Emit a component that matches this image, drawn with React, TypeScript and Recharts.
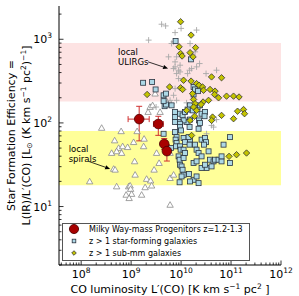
import React from 'react';
import {
  ScatterChart,
  Scatter,
  XAxis,
  YAxis,
  ReferenceArea,
  ReferenceLine,
  ErrorBar,
  Legend
} from 'recharts';

const FONT = '"DejaVu Sans", sans-serif';

// values as [log10 L'(CO), log10 SFE]
const starFormingLog: [number, number][] = [
  [9.89, 2.98], [10.2, 2.76], [9.24, 2.48], [9.42, 2.49], [9.49, 2.4], [9.65, 2.33], [9.7, 2.35], [10.25, 2.34],
  [10.25, 2.43], [10.28, 2.4], [10.34, 2.38], [9.67, 2.2], [9.7, 2.22], [9.65, 2.26], [9.81, 2.21], [9.88, 2.13],
  [9.88, 2.07], [9.98, 2.11], [10.03, 2.09], [10.08, 2.13], [10.23, 2.15], [10.33, 2.19], [10.38, 2.21], [10.18, 2.21],
  [10.13, 2.16], [10.41, 2.11], [10.48, 2.13], [10.47, 2.08], [10.36, 2.03], [10.18, 2.04], [10.11, 2.01], [10.05, 2.03],
  [9.95, 2.01], [9.88, 2.01], [9.98, 1.99], [9.98, 1.95], [10.0, 1.91], [10.17, 1.95], [10.35, 1.93], [10.38, 2.0],
  [9.65, 1.87], [9.88, 1.89], [9.91, 1.83], [9.89, 1.8], [9.91, 1.76], [9.9, 1.72], [10.05, 1.82], [10.08, 1.77],
  [10.18, 1.8], [10.17, 1.74], [10.15, 1.83], [10.28, 1.74], [10.41, 1.8], [10.48, 1.82], [10.5, 1.77], [10.46, 1.74],
  [10.98, 1.83], [10.85, 1.74], [9.8, 1.7], [9.98, 1.72], [9.99, 1.68], [10.05, 1.68], [10.08, 1.64], [10.31, 1.68],
  [10.35, 1.64], [10.41, 1.6], [10.55, 1.66], [10.58, 1.56], [10.65, 1.54], [10.68, 1.56], [10.75, 1.56], [10.81, 1.54],
  [10.81, 1.6], [10.51, 1.46], [10.61, 1.48], [10.41, 1.46], [10.48, 1.5], [10.25, 1.52], [10.31, 1.54], [9.95, 1.6],
  [9.97, 1.56], [9.98, 1.5], [10.05, 1.58], [10.01, 1.48], [10.03, 1.44], [10.05, 1.38], [9.97, 1.29], [10.16, 1.39],
  [10.25, 1.32], [10.35, 1.28], [10.98, 1.52], [10.31, 1.36], [10.01, 1.36], [10.18, 1.3]
];

const subMmLog: [number, number][] = [
  [9.99, 3.21], [10.2, 3.05], [9.96, 2.91], [10.29, 2.9], [9.99, 2.83], [10.02, 2.8], [10.18, 2.84], [10.24, 2.79],
  [10.61, 2.55], [10.81, 2.54], [10.05, 2.51], [10.2, 2.5], [10.31, 2.47], [10.36, 2.45], [10.43, 2.43], [9.77, 2.43],
  [9.99, 2.42], [10.03, 2.4], [10.45, 2.39], [10.58, 2.4], [10.68, 2.38], [10.67, 2.34], [10.91, 2.32], [11.05, 2.32],
  [11.16, 2.31], [10.75, 2.3], [10.25, 2.28], [10.55, 2.27], [10.44, 2.25], [10.28, 2.23], [10.25, 2.19], [10.31, 2.15],
  [10.11, 2.15], [11.13, 2.14], [11.25, 2.16], [11.27, 2.11], [10.81, 2.09], [11.05, 2.05], [10.63, 2.07], [10.61, 2.03],
  [10.18, 2.03], [10.27, 2.08], [10.21, 1.85], [10.4, 2.22], [10.23, 2.35], [11.11, 1.62], [11.31, 1.64], [10.96, 1.6],
  [9.32, 2.34]
];

const ulirgLog: [number, number][] = [
  [9.35, 2.99], [9.61, 3.18], [9.69, 3.16], [9.88, 3.08], [10.0, 3.13], [10.31, 3.11], [9.85, 2.97], [9.81, 2.95],
  [10.18, 2.95], [10.28, 2.85], [9.75, 2.79], [9.91, 2.79], [9.88, 2.73], [9.98, 2.69], [9.88, 2.67], [9.85, 2.65],
  [9.95, 2.63], [9.91, 2.59], [9.98, 2.61], [10.17, 2.63], [10.21, 2.65], [10.13, 2.59], [10.37, 2.71], [10.31, 2.67],
  [10.5, 2.59], [10.71, 2.63], [9.95, 2.53], [9.88, 2.41], [9.85, 2.33], [9.78, 2.27], [9.91, 2.27], [9.81, 2.23],
  [9.68, 2.27], [10.11, 2.24], [10.63, 2.03], [10.71, 2.04], [10.61, 1.97], [10.65, 1.95], [10.51, 1.87], [9.5, 2.19]
];

const spiralLog: [number, number][] = [
  [8.17, 1.3], [8.41, 1.94], [8.8, 1.9], [9.12, 1.9], [8.67, 1.79], [9.05, 1.77], [9.26, 1.81], [8.75, 1.7],
  [8.83, 1.72], [8.93, 1.71], [9.25, 1.72], [9.34, 2.13], [9.38, 2.19], [9.43, 2.21], [9.48, 2.35], [9.71, 2.26],
  [9.58, 2.13], [8.61, 1.64], [8.71, 1.66], [8.81, 1.64], [9.51, 1.64], [9.78, 1.64], [9.07, 1.54], [9.56, 1.52],
  [8.65, 1.45], [8.68, 1.44], [9.46, 1.44], [9.08, 1.38], [9.31, 1.33], [9.39, 1.31], [9.78, 1.34], [8.71, 1.24],
  [8.95, 1.24], [8.98, 1.25], [8.99, 1.21], [9.28, 1.23], [9.41, 1.25], [8.9, 1.14], [9.01, 1.15], [8.96, 1.1],
  [9.21, 1.14], [9.78, 1.02], [9.85, 1.38]
];

// Milky Way-mass progenitors with error ranges
const mwLco = [1.45e9, 3.5e9, 4.6e9, 5.2e9];
const mwLcoLow = [8.7e8, 2.8e9, 4.6e9, 5.2e9];
const mwLcoHigh = [2.3e9, 4.4e9, 4.6e9, 5.2e9];
const mwSfe = [111, 97, 56, 46];
const mwSfeLow = [61, 71, 48, 35];
const mwSfeHigh = [158, 120, 65, 55];

const ulirgBand = [180, 900];
const spiralBand = [18, 80];

// annotation arrows, [log10 L'(CO), log10 SFE]
const ulirgArrow: [number, number][] = [[9.34, 2.73], [9.74, 2.65]];
const spiralArrow: [number, number][] = [[8.15, 1.54], [8.58, 1.45]];

const legendLabels = [
  'Milky Way-mass Progenitors z=1.2-1.3',
  'z > 1 star-forming galaxies',
  'z > 1 sub-mm galaxies'
];

const xDomain: [number, number] = [3.6e7, 1e12];
const yDomain: [number, number] = [2, 2500];
const xDecades = [7, 8, 9, 10, 11, 12];
const yDecades = [0, 1, 2, 3];
const tickSteps = [1, 2, 3, 4, 5, 6, 7, 8, 9];

const toPoints = (arr: [number, number][]) => arr.map(([lx, ly]) => ({ lco: 10 ** lx, sfe: 10 ** ly }));
const toSegment = (arr: [number, number][]) => arr.map(([lx, ly]) => ({ x: 10 ** lx, y: 10 ** ly }));

const buildTicks = (decades: number[], [lo, hi]: [number, number]) =>
  decades.flatMap((d) => tickSteps.map((s) => s * 10 ** d)).filter((v) => v >= lo && v <= hi);

const xTicks = buildTicks(xDecades, xDomain);
const yTicks = buildTicks(yDecades, yDomain);

const mwData = mwLco.map((lco, i) => ({
  lco,
  sfe: mwSfe[i],
  xErr: [lco - mwLcoLow[i], mwLcoHigh[i] - lco],
  yErr: [mwSfe[i] - mwSfeLow[i], mwSfeHigh[i] - mwSfe[i]]
}));

const isMajor = (v: number) => Math.abs(Math.log10(v) - Math.round(Math.log10(v))) < 1e-6;
const expOf = (v: number) => Math.round(Math.log10(v));

const BottomTick = ({ x, y, payload }: any) => {
  const major = isMajor(payload.value);
  return (
    <g>
      <line x1={x} x2={x} y1={y} y2={y - (major ? 4.5 : 2.5)} stroke="#000" strokeWidth={0.8} />
      {major && (
        <text x={x} y={y + 13} textAnchor="middle" fontSize={11} fontFamily={FONT} fill="#000">
          10<tspan dy={-5} fontSize={7.5}>{expOf(payload.value)}</tspan>
        </text>
      )}
    </g>
  );
};

const TopTick = ({ x, y, payload }: any) => {
  const major = isMajor(payload.value);
  return <line x1={x} x2={x} y1={y} y2={y + (major ? 4.5 : 2.5)} stroke="#000" strokeWidth={0.8} />;
};

const LeftTick = ({ x, y, payload }: any) => {
  const major = isMajor(payload.value);
  return (
    <g>
      <line x1={x} x2={x + (major ? 4.5 : 2.5)} y1={y} y2={y} stroke="#000" strokeWidth={0.8} />
      {major && (
        <text x={x - 7} y={y + 4} textAnchor="end" fontSize={11} fontFamily={FONT} fill="#000">
          10<tspan dy={-5} fontSize={7.5}>{expOf(payload.value)}</tspan>
        </text>
      )}
    </g>
  );
};

const RightTick = ({ x, y, payload }: any) => {
  const major = isMajor(payload.value);
  return <line x1={x} x2={x - (major ? 4.5 : 2.5)} y1={y} y2={y} stroke="#000" strokeWidth={0.8} />;
};

const XTitle = ({ viewBox }: any) => (
  <text
    x={viewBox.x + viewBox.width / 2}
    y={viewBox.y + 28}
    textAnchor="middle"
    fontSize={11}
    fontFamily={FONT}
    fill="#000"
  >
    CO luminosity L′(CO) [K km s<tspan dy={-4} fontSize={7.5}>−1</tspan>
    <tspan dy={4}> pc</tspan><tspan dy={-4} fontSize={7.5}>2</tspan><tspan dy={4}> ]</tspan>
  </text>
);

const YTitle = ({ viewBox }: any) => {
  const cy = viewBox.y + viewBox.height / 2;
  const x0 = viewBox.x;
  return (
    <g fontFamily={FONT} fontSize={11} fill="#000">
      <text transform={`translate(${x0 + 14.5},${cy}) rotate(-90)`} textAnchor="middle">
        Star Formation Efficiency =
      </text>
      <text transform={`translate(${x0 + 29.5},${cy}) rotate(-90)`} textAnchor="middle">
        L(IR)/L′(CO) [L<tspan dy={2.5} fontSize={7.5}>⊙</tspan>
        <tspan dy={-2.5}> (K km s</tspan><tspan dy={-4} fontSize={7.5}>−1</tspan>
        <tspan dy={4}> pc</tspan><tspan dy={-4} fontSize={7.5}>2</tspan>
        <tspan dy={4}>)</tspan><tspan dy={-4} fontSize={7.5}>−1</tspan>
        <tspan dy={4}>]</tspan>
      </text>
    </g>
  );
};

const Triangle = ({ cx, cy }: any) => (
  <polygon
    points={`${cx},${cy - 3.2} ${cx - 3.2},${cy + 2.4} ${cx + 3.2},${cy + 2.4}`}
    fill="#fff"
    stroke="#8a8a8a"
    strokeWidth={0.8}
  />
);

const Plus = ({ cx, cy }: any) => (
  <g stroke="#a8a8a8" strokeWidth={0.9}>
    <line x1={cx - 3} x2={cx + 3} y1={cy} y2={cy} />
    <line x1={cx} x2={cx} y1={cy - 3} y2={cy + 3} />
  </g>
);

const Square = ({ cx, cy, s = 2.5 }: any) => (
  <rect x={cx - s} y={cy - s} width={2 * s} height={2 * s} fill="#add8e6" stroke="#2a3340" strokeWidth={0.8} />
);

const Diamond = ({ cx, cy, s = 3.2 }: any) => (
  <polygon
    points={`${cx},${cy - s} ${cx + s},${cy} ${cx},${cy + s} ${cx - s},${cy}`}
    fill="#c4c400"
    stroke="#333"
    strokeWidth={0.8}
  />
);

const MwDot = ({ cx, cy, r = 4.8 }: any) => (
  <circle cx={cx} cy={cy} r={r} fill="#a80000" stroke="#4a0000" strokeWidth={0.8} />
);

const makeArrow = (lines: string[], dx: number, dys: number[]) => (p: any) => {
  const { x1, y1, x2, y2 } = p;
  const a = Math.atan2(y2 - y1, x2 - x1);
  const hl = 5;
  const hw = 2.2;
  const bx = x2 - hl * Math.cos(a);
  const by = y2 - hl * Math.sin(a);
  const pts = `${x2},${y2} ${bx - hw * Math.sin(a)},${by + hw * Math.cos(a)} ${bx + hw * Math.sin(a)},${by - hw * Math.cos(a)}`;
  return (
    <g>
      <line x1={x1} y1={y1} x2={bx} y2={by} stroke="#000" strokeWidth={0.8} />
      <polygon points={pts} fill="#000" />
      {lines.map((t, i) => (
        <text key={i} x={x1 + dx} y={y1 + dys[i]} fontSize={8.5} fontFamily={FONT} fill="#000">
          {t}
        </text>
      ))}
    </g>
  );
};

const legendMarkers = [
  <g key="mw">
    <line x1={6} x2={16} y1={6} y2={6} stroke="#d03030" strokeWidth={0.8} />
    <line x1={11} x2={11} y1={1} y2={11} stroke="#d03030" strokeWidth={0.8} />
    <MwDot cx={11} cy={6} r={4.6} />
  </g>,
  <Square key="sq" cx={11} cy={6} s={1.8} />,
  <Diamond key="dm" cx={11} cy={6} s={2.3} />
];

const LegendBox = () => (
  <div
    style={{
      width: 188,
      height: 38,
      boxSizing: 'border-box',
      border: '1px solid #555',
      background: '#fff',
      fontFamily: FONT,
      fontSize: 8,
      color: '#000',
      position: 'relative'
    }}
  >
    {legendLabels.map((label, i) => (
      <div
        key={label}
        style={{ position: 'absolute', left: 0, top: 12 * i - 1, height: 12, display: 'flex', alignItems: 'center', whiteSpace: 'nowrap' }}
      >
        <svg width={26} height={12} style={{ display: 'block' }}>
          {legendMarkers[i]}
        </svg>
        <span>{label}</span>
      </div>
    ))}
  </div>
);

const App: React.FC = () => {
  return (
    <div style={{ position: 'absolute', left: 0, top: 0, background: '#fff' }}>
      <ScatterChart width={299} height={296} margin={{ top: 6, right: 18, bottom: 0, left: 0 }}>
        <ReferenceArea y1={ulirgBand[0]} y2={ulirgBand[1]} fill="#fde3e3" fillOpacity={1} stroke="none" ifOverflow="hidden" />
        <ReferenceArea y1={spiralBand[0]} y2={spiralBand[1]} fill="#ffff99" fillOpacity={1} stroke="none" ifOverflow="hidden" />
        <XAxis
          dataKey="lco"
          type="number"
          scale="log"
          domain={xDomain}
          allowDataOverflow
          ticks={xTicks}
          interval={0}
          tick={<BottomTick />}
          tickLine={false}
          tickSize={0}
          tickMargin={0}
          height={31}
          axisLine={{ stroke: '#000', strokeWidth: 1 }}
          label={<XTitle />}
        />
        <XAxis
          xAxisId="top"
          orientation="top"
          type="number"
          scale="log"
          domain={xDomain}
          allowDataOverflow
          ticks={xTicks}
          interval={0}
          tick={<TopTick />}
          tickLine={false}
          tickSize={0}
          tickMargin={0}
          height={0}
          axisLine={{ stroke: '#000', strokeWidth: 1 }}
        />
        <YAxis
          dataKey="sfe"
          type="number"
          scale="log"
          domain={yDomain}
          allowDataOverflow
          ticks={yTicks}
          interval={0}
          tick={<LeftTick />}
          tickLine={false}
          tickSize={0}
          tickMargin={0}
          width={59}
          axisLine={{ stroke: '#000', strokeWidth: 1 }}
          label={<YTitle />}
        />
        <YAxis
          yAxisId="right"
          orientation="right"
          type="number"
          scale="log"
          domain={yDomain}
          allowDataOverflow
          ticks={yTicks}
          interval={0}
          tick={<RightTick />}
          tickLine={false}
          tickSize={0}
          tickMargin={0}
          width={0}
          axisLine={{ stroke: '#000', strokeWidth: 1 }}
        />
        <Scatter data={toPoints(spiralLog)} shape={(p: any) => <Triangle {...p} />} isAnimationActive={false} legendType="none" />
        <Scatter data={toPoints(ulirgLog)} shape={(p: any) => <Plus {...p} />} isAnimationActive={false} legendType="none" />
        <Scatter data={toPoints(starFormingLog)} shape={(p: any) => <Square cx={p.cx} cy={p.cy} />} isAnimationActive={false} />
        <Scatter data={toPoints(subMmLog)} shape={(p: any) => <Diamond cx={p.cx} cy={p.cy} />} isAnimationActive={false} />
        <Scatter data={mwData} shape={(p: any) => <MwDot cx={p.cx} cy={p.cy} />} isAnimationActive={false}>
          <ErrorBar dataKey="yErr" direction="y" width={3} stroke="#d03030" strokeWidth={1} />
          <ErrorBar dataKey="xErr" direction="x" width={3} stroke="#d03030" strokeWidth={1} />
        </Scatter>
        <ReferenceLine
          segment={toSegment(ulirgArrow)}
          ifOverflow="visible"
          shape={makeArrow(['local', 'ULIRGs'], -30, [-6.4, 3.6])}
        />
        <ReferenceLine
          segment={toSegment(spiralArrow)}
          ifOverflow="visible"
          shape={makeArrow(['local', 'spirals'], -20, [-9.4, 0.6])}
        />
        <Legend
          layout="horizontal"
          verticalAlign="middle"
          align="center"
          width={188}
          wrapperStyle={{ left: 62, top: 223, width: 188 }}
          content={() => <LegendBox />}
        />
      </ScatterChart>
    </div>
  );
};

export default App;
